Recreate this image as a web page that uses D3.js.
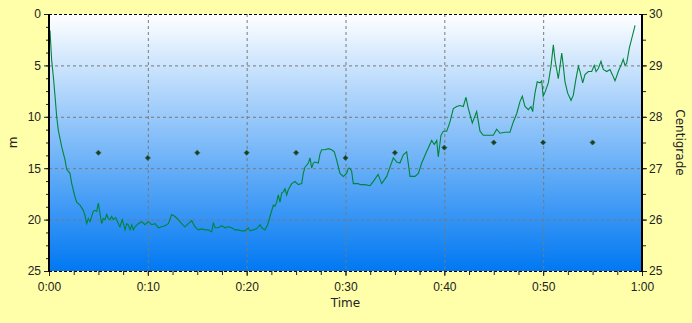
<!DOCTYPE html>
<html>
<head>
<meta charset="utf-8">
<script src="https://cdn.jsdelivr.net/npm/d3@7"></script>
<style>
  html, body { margin: 0; padding: 0; background: #ffffaa; }
  svg { display: block; font-family: "DejaVu Sans", Verdana, sans-serif; font-size: 12px; }
  .axis text { fill: #222; font-size: 12px; }
  .axis path { display: none; }
</style>
</head>
<body>
<svg id="chart" width="692" height="323"></svg>
<script>
"use strict";

// depth profile, time in minutes, depth in m
var depthTimes = [0.1, 0.27, 0.44, 0.61, 0.78, 0.94, 1.28, 1.62, 1.79, 2.12, 2.3, 2.63, 2.8, 3.14, 3.47, 3.64, 3.81, 3.98, 4.15, 4.48,
  4.65, 4.83, 4.99, 5.16, 5.33, 5.49, 5.67, 5.83, 6.0, 6.17, 6.34, 6.5, 6.75, 7.01, 7.18, 7.42, 7.69, 7.86, 8.02, 8.2,
  8.37, 8.53, 8.7, 9.04, 9.38, 9.71, 10.05, 10.39, 10.73, 11.06, 11.4, 11.74, 12.07, 12.41, 12.75, 13.08, 13.42, 13.76, 14.1, 14.44,
  14.77, 15.11, 15.45, 15.78, 16.12, 16.46, 16.63, 16.8, 17.13, 17.47, 17.81, 18.14, 18.48, 18.82, 19.15, 19.5, 19.83, 20.17, 20.34, 20.67,
  21.01, 21.35, 21.52, 21.85, 22.13, 22.36, 22.7, 22.87, 23.04, 23.2, 23.37, 23.55, 23.71, 23.88, 24.05, 24.21, 24.56, 24.89, 25.22, 25.57,
  25.73, 25.9, 26.24, 26.41, 26.58, 26.74, 26.91, 27.25, 27.42, 27.59, 27.93, 28.26, 28.6, 28.87, 29.1, 29.44, 29.78, 30.12, 30.28, 30.45,
  30.62, 30.79, 31.3, 31.47, 31.97, 32.48, 32.8, 33.3, 33.66, 34.17, 34.5, 34.84, 35.18, 35.51, 35.85, 36.19, 36.53, 37.03, 37.37, 37.71,
  38.2, 38.72, 38.98, 39.23, 39.39, 39.66, 39.9, 40.24, 40.57, 40.91, 41.25, 41.58, 41.92, 42.19, 42.43, 42.83, 43.27, 43.61, 43.94, 44.45,
  44.95, 45.3, 45.63, 46.14, 46.64, 46.98, 47.32, 47.66, 47.89, 48.16, 48.5, 48.77, 48.94, 49.0, 49.17, 49.4, 49.68, 49.85, 50.0, 50.19,
  50.52, 50.79, 51.03, 51.2, 51.37, 51.53, 51.7, 51.88, 52.04, 52.21, 52.48, 52.82, 53.05, 53.3, 53.56, 53.73, 54.0, 54.23, 54.57, 54.91,
  55.17, 55.35, 55.58, 55.85, 56.08, 56.43, 56.76, 57.0, 57.27, 57.6, 57.95, 58.1, 58.28, 58.45, 58.72, 58.96, 59.3];
var depthValues = [1.6, 4.5, 6.1, 8.0, 10.0, 11.3, 12.9, 14.2, 15.1, 15.5, 16.5, 17.8, 18.3, 18.6, 19.1, 19.6, 20.4, 19.9, 20.2, 19.2,
  19.1, 19.2, 18.4, 19.4, 20.4, 19.9, 20.0, 19.5, 19.9, 20.0, 19.7, 20.0, 19.8, 20.4, 20.7, 20.0, 21.0, 20.4, 20.5, 21.0,
  20.5, 21.0, 20.7, 20.4, 20.2, 20.5, 20.2, 20.5, 20.4, 20.8, 20.7, 20.6, 20.4, 19.5, 19.7, 20.0, 20.4, 20.7, 20.4, 20.1,
  20.7, 21.0, 20.9, 21.0, 21.0, 21.2, 20.3, 20.8, 20.8, 20.6, 20.8, 20.7, 20.8, 21.0, 21.0, 21.1, 21.1, 20.8, 21.1, 21.0,
  20.9, 20.5, 20.8, 21.0, 20.5, 19.7, 18.6, 18.7, 18.3, 17.6, 18.3, 17.4, 17.3, 17.0, 17.6, 17.1, 16.5, 16.3, 16.6, 16.5,
  15.5, 14.9, 14.5, 14.0, 15.0, 14.5, 14.4, 14.5, 13.6, 13.2, 13.2, 13.1, 13.2, 13.4, 14.2, 15.5, 15.8, 15.5, 15.0, 15.0,
  15.3, 16.5, 16.5, 16.6, 16.6, 16.7, 16.3, 15.6, 16.5, 15.8, 14.9, 14.0, 14.4, 14.5, 13.7, 13.4, 15.8, 15.8, 15.5, 14.5,
  13.4, 12.3, 12.7, 12.3, 13.9, 11.8, 11.4, 11.4, 10.5, 9.2, 9.0, 8.9, 9.0, 8.1, 9.2, 10.6, 9.5, 11.4, 11.8, 11.8,
  11.8, 11.2, 11.6, 11.5, 11.5, 10.5, 9.7, 8.5, 8.0, 9.0, 9.3, 9.0, 9.5, 8.9, 7.7, 6.6, 6.7, 6.5, 8.0, 7.6,
  6.7, 5.1, 3.0, 4.5, 5.4, 6.3, 5.1, 3.8, 5.1, 6.6, 7.7, 8.4, 7.9, 6.4, 5.1, 5.6, 6.7, 5.9, 5.6, 5.6,
  5.0, 5.6, 5.3, 4.6, 5.4, 5.6, 5.4, 5.9, 6.5, 5.6, 4.8, 4.4, 5.0, 4.8, 3.3, 2.4, 1.1];

// temperature samples, every 5 minutes
var tempTimes = [5, 10, 15, 20, 25, 30, 35, 40, 45, 50, 55];
var tempValues = [27.3, 27.2, 27.3, 27.3, 27.3, 27.2, 27.3, 27.4, 27.5, 27.5, 27.5];

var timeTicks = [0, 10, 20, 30, 40, 50, 60];
var depthTicks = [0, 5, 10, 15, 20, 25];
var tempTicks = [25, 26, 27, 28, 29, 30];

var svg = d3.select("#chart");
var plotL = 49, plotR = 642, plotT = 14, plotB = 271;

var x = d3.scaleLinear().domain([0, 60]).range([plotL, plotR]);
var yDepth = d3.scaleLinear().domain([0, 25]).range([plotT, plotB]);
var yTemp = d3.scaleLinear().domain([25, 30]).range([plotB, plotT]);

function fmtTime(m) {
  return Math.floor(m / 60) + ":" + d3.format("02d")(m % 60);
}

// plot background gradient
var grad = svg.append("defs").append("linearGradient")
  .attr("id", "bg")
  .attr("x1", 0).attr("y1", 0).attr("x2", 0).attr("y2", 1);
grad.append("stop").attr("offset", "0%").attr("stop-color", "#ffffff");
grad.append("stop").attr("offset", "100%").attr("stop-color", "#0078f2");

svg.append("rect")
  .attr("x", plotL).attr("y", plotT)
  .attr("width", plotR - plotL).attr("height", plotB - plotT)
  .attr("fill", "url(#bg)");

// grid
var grid = svg.append("g").attr("class", "grid")
  .attr("stroke", "#7a7a7a")
  .attr("stroke-dasharray", "3,3");
grid.selectAll("line.v")
  .data(timeTicks.slice(1, -1))
  .enter().append("line")
  .attr("class", "v")
  .attr("x1", function(d) { return x(d) + 0.5; })
  .attr("x2", function(d) { return x(d) + 0.5; })
  .attr("y1", plotT).attr("y2", plotB);
grid.selectAll("line.h")
  .data(depthTicks.slice(1, -1))
  .enter().append("line")
  .attr("class", "h")
  .attr("x1", plotL).attr("x2", plotR)
  .attr("y1", function(d) { return yDepth(d) + 0.5; })
  .attr("y2", function(d) { return yDepth(d) + 0.5; });

// top / bottom dashed border
svg.append("line")
  .attr("x1", plotL).attr("x2", plotR).attr("y1", plotT + 0.5).attr("y2", plotT + 0.5)
  .attr("stroke", "#000").attr("stroke-dasharray", "3,2");
svg.append("line")
  .attr("x1", plotL).attr("x2", plotR).attr("y1", plotB + 0.5).attr("y2", plotB + 0.5)
  .attr("stroke", "#000").attr("stroke-dasharray", "3,2");

// depth line
var line = d3.line()
  .x(function(d, i) { return x(depthTimes[i]); })
  .y(function(d) { return yDepth(d); });

svg.append("path")
  .datum(depthValues)
  .attr("d", line)
  .attr("fill", "none")
  .attr("stroke", "#00853a")
  .attr("stroke-width", 1.1);

// temperature markers (small rotated squares)
svg.append("g")
  .selectAll("path")
  .data(tempValues)
  .enter().append("path")
  .attr("d", d3.symbol().type(d3.symbolSquare).size(13))
  .attr("transform", function(d, i) {
    return "translate(" + x(tempTimes[i]) + "," + yTemp(d) + ") rotate(45)";
  })
  .attr("fill", "#1d3b2a")
  .attr("stroke", "#2f6a45")
  .attr("stroke-width", 0.8);

// axes
var xMinor = d3.range(0, 60.01, 2.5);
svg.append("g")
  .attr("class", "axis")
  .attr("transform", "translate(0," + plotB + ")")
  .call(d3.axisBottom(x).tickValues(xMinor).tickSize(4).tickFormat(""));
svg.append("g")
  .attr("class", "axis")
  .attr("transform", "translate(0," + plotB + ")")
  .call(d3.axisBottom(x).tickValues(timeTicks).tickSize(5).tickPadding(6).tickFormat(fmtTime));

var dMinor = d3.range(0, 25.01, 1.25);
svg.append("g")
  .attr("class", "axis")
  .attr("transform", "translate(" + plotL + ",0)")
  .call(d3.axisLeft(yDepth).tickValues(dMinor).tickSize(3).tickFormat(""));
svg.append("g")
  .attr("class", "axis")
  .attr("transform", "translate(" + plotL + ",0)")
  .call(d3.axisLeft(yDepth).tickValues(depthTicks).tickSize(5).tickPadding(3).tickFormat(d3.format("d")));

var tMinor = d3.range(25, 30.01, 0.5);
svg.append("g")
  .attr("class", "axis")
  .attr("transform", "translate(" + plotR + ",0)")
  .call(d3.axisRight(yTemp).tickValues(tMinor).tickSize(4).tickFormat(""));
svg.append("g")
  .attr("class", "axis")
  .attr("transform", "translate(" + plotR + ",0)")
  .call(d3.axisRight(yTemp).tickValues(tempTicks).tickSize(5).tickPadding(2).tickFormat(d3.format("d")));

svg.selectAll(".axis .tick line").attr("stroke", "#222");

// thick side axes
svg.append("line")
  .attr("x1", plotL).attr("x2", plotL).attr("y1", plotT).attr("y2", plotB + 1)
  .attr("stroke", "#000").attr("stroke-width", 2);
svg.append("line")
  .attr("x1", plotR).attr("x2", plotR).attr("y1", plotT).attr("y2", plotB + 1)
  .attr("stroke", "#000").attr("stroke-width", 2);

// axis titles
svg.append("text")
  .attr("transform", "translate(17," + ((plotT + plotB) / 2) + ") rotate(-90)")
  .attr("text-anchor", "middle")
  .attr("fill", "#222")
  .text("m");
svg.append("text")
  .attr("transform", "translate(676," + ((plotT + plotB) / 2) + ") rotate(90)")
  .attr("text-anchor", "middle")
  .attr("fill", "#222")
  .text("Centigrade");
svg.append("text")
  .attr("x", (plotL + plotR) / 2)
  .attr("y", 307)
  .attr("text-anchor", "middle")
  .attr("fill", "#222")
  .text("Time");
</script>
</body>
</html>
